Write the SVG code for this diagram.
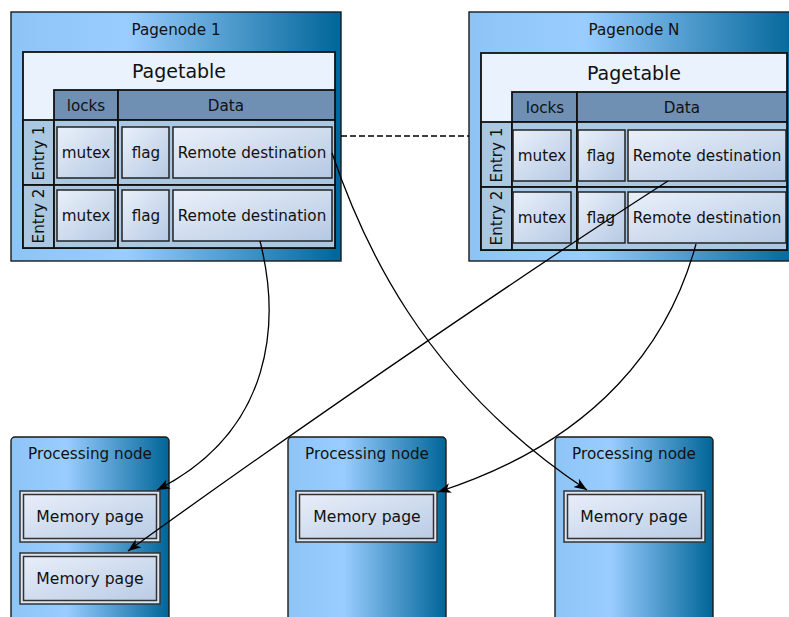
<svg xmlns="http://www.w3.org/2000/svg" width="789" height="617" viewBox="0 0 789 617">
<defs>
<linearGradient id="gNode" x1="0" y1="0" x2="1" y2="0">
<stop offset="0" stop-color="#8dc4f6"/>
<stop offset="0.35" stop-color="#9acdff"/>
<stop offset="1" stop-color="#006598"/>
</linearGradient>
<linearGradient id="gCell" x1="0" y1="0" x2="1" y2="1">
<stop offset="0" stop-color="#eaf0fa"/>
<stop offset="1" stop-color="#b5c9e3"/>
</linearGradient>
<linearGradient id="gMem" x1="0" y1="0" x2="1" y2="1">
<stop offset="0" stop-color="#e8eef9"/>
<stop offset="1" stop-color="#b9cce5"/>
</linearGradient>
<marker id="arr" markerWidth="14" markerHeight="10" refX="13" refY="5" orient="auto" markerUnits="userSpaceOnUse">
<path d="M0,0 L13,5 L0,10 L3.5,5 z" fill="#000"/>
</marker>
<style>
text{font-family:"DejaVu Sans","Liberation Sans",sans-serif;fill:#111;text-anchor:middle}
.t{font-size:15.2px}
.m{font-size:15.6px}
.big{font-size:19px}
.node{fill:url(#gNode);stroke:#1a1a1a;stroke-width:1.4}
.pt{fill:#eaf2fd;stroke:#111;stroke-width:1.8}
.hdr{fill:#6f90b3;stroke:#111;stroke-width:1.8}
.row{fill:#aac8e2;stroke:#111;stroke-width:1.8}
.cell{fill:url(#gCell);stroke:#222;stroke-width:1.5}
.memo{fill:#dce6f3;stroke:#333;stroke-width:1.5}
.memi{fill:url(#gMem);stroke:#333;stroke-width:1.5}
.con{fill:none;stroke:#000;stroke-width:1.3}
</style>
</defs>

<g id="pagenode1">
<rect class="node" x="11" y="12" width="330" height="249"/>
<text class="t" x="176" y="35">Pagenode 1</text>
<rect class="pt" x="23" y="52" width="312" height="196"/>
<text class="big" x="179" y="78">Pagetable</text>
<rect class="hdr" x="54" y="90" width="64" height="30"/>
<rect class="hdr" x="118" y="90" width="217" height="30"/>
<text class="t" x="86" y="111">locks</text>
<text class="t" x="226" y="111">Data</text>
<rect class="row" x="23" y="120" width="31" height="65"/>
<rect class="row" x="54" y="120" width="64" height="65"/>
<rect class="row" x="118" y="120" width="217" height="65"/>
<rect class="row" x="23" y="185" width="31" height="63"/>
<rect class="row" x="54" y="185" width="64" height="63"/>
<rect class="row" x="118" y="185" width="217" height="63"/>
<text class="t" transform="translate(44,153) rotate(-90)">Entry 1</text>
<text class="t" transform="translate(44,216) rotate(-90)">Entry 2</text>
<rect class="cell" x="57" y="127" width="58" height="51"/>
<rect class="cell" x="122" y="127" width="47" height="51"/>
<rect class="cell" x="173" y="127" width="159" height="51"/>
<text class="t" x="86" y="158">mutex</text>
<text class="t" x="146" y="158">flag</text>
<text class="t" x="252" y="158">Remote destination</text>
<rect class="cell" x="57" y="190" width="58" height="51"/>
<rect class="cell" x="122" y="190" width="47" height="51"/>
<rect class="cell" x="173" y="190" width="159" height="51"/>
<text class="t" x="86" y="221">mutex</text>
<text class="t" x="146" y="221">flag</text>
<text class="t" x="252" y="221">Remote destination</text>
</g>

<g id="pagenodeN">
<rect class="node" x="469" y="12" width="330" height="249"/>
<text class="t" x="634" y="35">Pagenode N</text>
<rect class="pt" x="481" y="53" width="306" height="197"/>
<text class="big" x="634" y="80">Pagetable</text>
<rect class="hdr" x="512" y="92" width="65" height="30"/>
<rect class="hdr" x="577" y="92" width="210" height="30"/>
<text class="t" x="545" y="113">locks</text>
<text class="t" x="682" y="113">Data</text>
<rect class="row" x="481" y="122" width="31" height="65"/>
<rect class="row" x="512" y="122" width="65" height="65"/>
<rect class="row" x="577" y="122" width="210" height="65"/>
<rect class="row" x="481" y="187" width="31" height="63"/>
<rect class="row" x="512" y="187" width="65" height="63"/>
<rect class="row" x="577" y="187" width="210" height="63"/>
<text class="t" transform="translate(502,155) rotate(-90)">Entry 1</text>
<text class="t" transform="translate(502,218) rotate(-90)">Entry 2</text>
<rect class="cell" x="513" y="130" width="58" height="51"/>
<rect class="cell" x="578" y="130" width="47" height="51"/>
<rect class="cell" x="628" y="130" width="158" height="51"/>
<text class="t" x="542" y="161">mutex</text>
<text class="t" x="601" y="161">flag</text>
<text class="t" x="707" y="161">Remote destination</text>
<rect class="cell" x="513" y="192" width="58" height="51"/>
<rect class="cell" x="578" y="192" width="47" height="51"/>
<rect class="cell" x="628" y="192" width="158" height="51"/>
<text class="t" x="542" y="223">mutex</text>
<text class="t" x="601" y="223">flag</text>
<text class="t" x="707" y="223">Remote destination</text>
</g>

<g id="proc1">
<rect class="node" x="11" y="437" width="158" height="200" rx="4"/>
<text class="t" x="90" y="459">Processing node</text>
<rect class="memo" x="20" y="491" width="140" height="51"/>
<rect class="memi" x="23.5" y="494.5" width="133" height="44"/>
<text class="m" x="90" y="522">Memory page</text>
<rect class="memo" x="20" y="553" width="140" height="51"/>
<rect class="memi" x="23.5" y="556.5" width="133" height="44"/>
<text class="m" x="90" y="584">Memory page</text>
</g>

<g id="proc2">
<rect class="node" x="288" y="437" width="158" height="200" rx="4"/>
<text class="t" x="367" y="459">Processing node</text>
<rect class="memo" x="296" y="491" width="141" height="51"/>
<rect class="memi" x="299.5" y="494.5" width="134" height="44"/>
<text class="m" x="367" y="522">Memory page</text>
</g>

<g id="proc3">
<rect class="node" x="555" y="437" width="158" height="200" rx="4"/>
<text class="t" x="634" y="459">Processing node</text>
<rect class="memo" x="564" y="491" width="141" height="51"/>
<rect class="memi" x="567.5" y="494.5" width="134" height="44"/>
<text class="m" x="634" y="522">Memory page</text>
</g>

<g id="connectors">
<path class="con" d="M341,136 H469" stroke-dasharray="6,3"/>
<path class="con" d="M332,153 C360,235 420,380 587,490" marker-end="url(#arr)"/>
<path class="con" d="M260,241 C280,320 275,430 157,490" marker-end="url(#arr)"/>
<path class="con" d="M668,181 C560,250 330,405 128,551" marker-end="url(#arr)"/>
<path class="con" d="M696,244 C670,340 600,440 438,492" marker-end="url(#arr)"/>
</g>
</svg>
